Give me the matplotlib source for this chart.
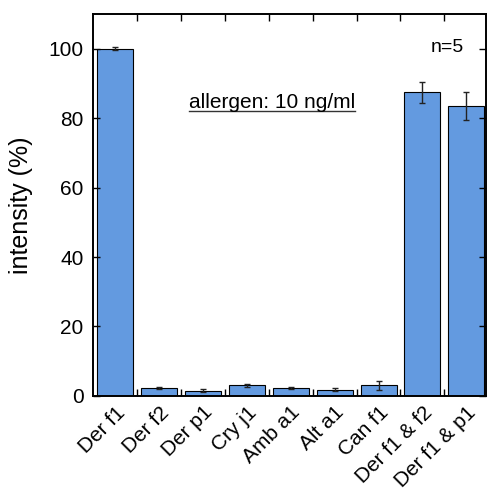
import matplotlib.pyplot as plt
import matplotlib.transforms as mtransforms
import numpy as np

plt.rcParams['font.family'] = ['Liberation Sans', 'DejaVu Sans']

allergens = ["Der f1", "Der f2", "Der p1", "Cry j1", "Amb a1", "Alt a1", "Can f1", "Der f1 & f2", "Der f1 & p1"]
intensity = [100.0, 2.3, 1.5, 3.0, 2.4, 1.8, 3.0, 87.4, 83.4]
errors = [0.5, 0.3, 0.4, 0.4, 0.3, 0.4, 1.2, 3.0, 4.0]

fig = plt.figure(figsize=(4.9, 4.98), dpi=100)
ax = fig.add_axes([0.19, 0.205, 0.802, 0.767])

x = np.arange(len(allergens))
ax.bar(x, intensity, width=0.82, color="#639ae0", edgecolor="black", linewidth=0.8,
       yerr=errors, capsize=2, error_kw=dict(elinewidth=1, ecolor="#222222", capthick=1))

ax.set_xlim(-0.5, len(allergens) - 0.55)
ax.set_ylim(0, 110)
ax.set_yticks([0, 20, 40, 60, 80, 100])
ax.set_xticks(x)
ax.set_xticklabels(allergens, rotation=45, ha="right", va="top", rotation_mode="anchor", fontsize=15)
shift = mtransforms.ScaledTranslation(8 / 100, 0, fig.dpi_scale_trans)
for lab in ax.get_xticklabels():
    lab.set_transform(lab.get_transform() + shift)
ax.set_xticks(x[:-1] + 0.5, minor=True)
ax.tick_params(axis="x", which="major", length=0, pad=5)
ax.tick_params(axis="x", which="minor", direction="in", length=5, top=True, bottom=True, width=1)
ax.tick_params(axis="y", direction="in", length=5, right=True, labelsize=15, width=1, pad=7)
ax.set_ylabel("intensity (%)", fontsize=18)
ax.yaxis.set_label_coords(-0.153, 0.5)
for s in ax.spines.values():
    s.set_linewidth(1.4)

ax.text(0.902, 0.911, "n=5", transform=ax.transAxes, ha="center", va="center", fontsize=14)
t = ax.text(0.455, 0.767, "allergen: 10 ng/ml", transform=ax.transAxes, ha="center", va="center", fontsize=15)

fig.canvas.draw()
bb = t.get_window_extent().transformed(ax.transAxes.inverted())
ax.plot([bb.x0, bb.x1], [bb.y0 + 0.003, bb.y0 + 0.003], transform=ax.transAxes, color="#333333", lw=1.0)

fig.savefig("out.png", dpi=100)
